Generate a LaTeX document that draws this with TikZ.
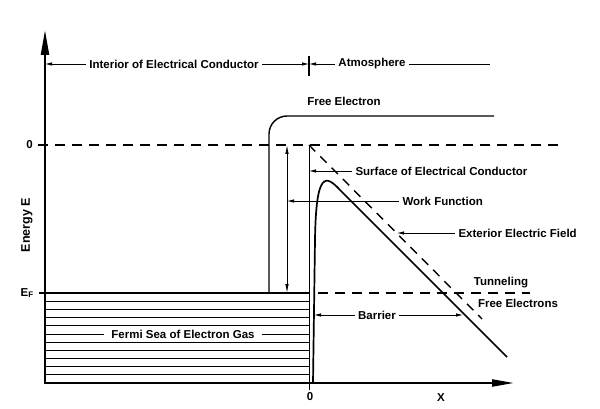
\documentclass[tikz,border=0pt]{standalone}
\usepackage{fontspec}
\setmainfont{Liberation Sans}
\usetikzlibrary{arrows.meta}

\begin{document}
\begin{tikzpicture}[x=1pt, y=-1pt, font=\bfseries\fontsize{11.5}{13}\selectfont,
    thinline/.style={line width=0.8pt},
    dim/.style={thinline, -{Latex[length=7pt,width=3.5pt]}},
    lvl/.style={line width=1.4pt, dash pattern=on 10pt off 7pt}]
    % --- parameters (picture units = pixels of the sketch) ---
    \def\xO{45}      % energy axis
    \def\yO{383}     % x axis
    \def\xS{309}     % surface of the conductor
    \def\yZ{145}     % vacuum level 0
    \def\yF{293}     % Fermi level E_F

    \useasboundingbox (0,0) rectangle (600,409);

    % --- axes ---
    \coordinate (ybot) at (\xO,\yO+1);
    \coordinate (ytop) at (\xO,30);
    \coordinate (xbeg) at (\xO-1,\yO);
    \coordinate (xend) at (514,\yO);
    \draw[line width=2.2pt, -{Triangle[length=25pt,width=8pt]}] (ybot) -- (ytop);
    \draw[line width=2.2pt, -{Triangle[length=22pt,width=7pt]}] (xbeg) -- (xend);
    \node[rotate=90, font=\bfseries\fontsize{12.5}{14}\selectfont] (elab) at (27,225) {Energy E};
    \node (xzero) at (310,397) {0};
    \node (xlab) at (441,398) {X};

    % --- top dimension line ---
    \node (interior) at (174,64) {Interior of Electrical Conductor};
    \node (atmos) at (372,64) {Atmosphere};
    \coordinate (topL) at (\xO,64);
    \coordinate (topS) at (\xS,64);
    \coordinate (topR) at (490,64);
    \draw[dim] (interior.west) -- (topL);
    \draw[dim] (interior.east) -- (topS);
    \draw[dim] (atmos.west) -- (topS);
    \draw[thinline] (atmos.east) -- (topR);
    \draw[line width=1.2pt] (\xS,56) -- (\xS,76);

    % --- energy levels ---
    \draw[lvl] (38,\yZ) -- (562,\yZ);
    \node[anchor=east, inner sep=1pt] (zero) at (34,\yZ) {0};
    \draw[line width=1.2pt] (39,\yF) -- (\xS,\yF);
    \draw[lvl] (318,\yF) -- (530,\yF);
    \node[anchor=east, inner sep=1pt] (EF) at (35,\yF) {E\textsubscript{F}};

    % --- Fermi sea ---
    \foreach \i in {1,...,10}
        \draw[thinline] (\xO,{\yF+\i*8.18}) -- (\xS,{\yF+\i*8.18});
    \node[fill=white, inner xsep=7pt, inner ysep=1pt] (sea) at (183,334) {Fermi Sea of Electron Gas};

    % --- surface and free electron ---
    \draw[thinline] (\xS,\yZ) -- (\xS,390);
    \draw[line width=1.4pt, rounded corners=18pt] (269,\yF) -- (269,116) -- (494,116);
    \node (free) at (344,101) {Free Electron};

    % --- work function ---
    \coordinate (wfTop) at (287,\yZ);
    \coordinate (wfBot) at (287,\yF);
    \coordinate (wfHit) at (287,201);
    \draw[thinline, {Latex[length=9pt,width=3.5pt]}-{Latex[length=9pt,width=3.5pt]}] (wfTop) -- (wfBot);
    \node[anchor=west] (wf) at (399,201) {Work Function};
    \draw[dim] (wf.west) -- (wfHit);

    % --- surface label ---
    \coordinate (surfHit) at (\xS,171);
    \node[anchor=west] (surf) at (352,171) {Surface of Electrical Conductor};
    \draw[dim] (surf.west) -- (surfHit);

    % --- exterior field (dashed) and barrier (solid) ---
    \coordinate (fieldTop) at (\xS,\yZ);
    \coordinate (fieldEnd) at (482,319);
    \coordinate (fieldHit) at (397,233);
    \draw[line width=1.4pt, dash pattern=on 9pt off 7pt] (fieldTop) -- (fieldEnd);
    \node[anchor=west] (field) at (455,233) {Exterior Electric Field};
    \draw[dim] (field.west) -- (fieldHit);

    \draw[line width=1.7pt] (313,\yO) -- (315,240) .. controls (316,170) and (326,175) .. (340,190) -- (507,357);

    % --- barrier width ---
    \coordinate (barL) at (314,315);
    \coordinate (barR) at (463,315);
    \node (barrier) at (377,315) {Barrier};
    \draw[dim] (barrier.west) -- (barL);
    \draw[dim] (barrier.east) -- (barR);

    % --- tunneling ---
    \node (tunnel) at (501,283) {Tunneling};
    \node (freeel) at (518,303) {Free Electrons};
\end{tikzpicture}
\end{document}
